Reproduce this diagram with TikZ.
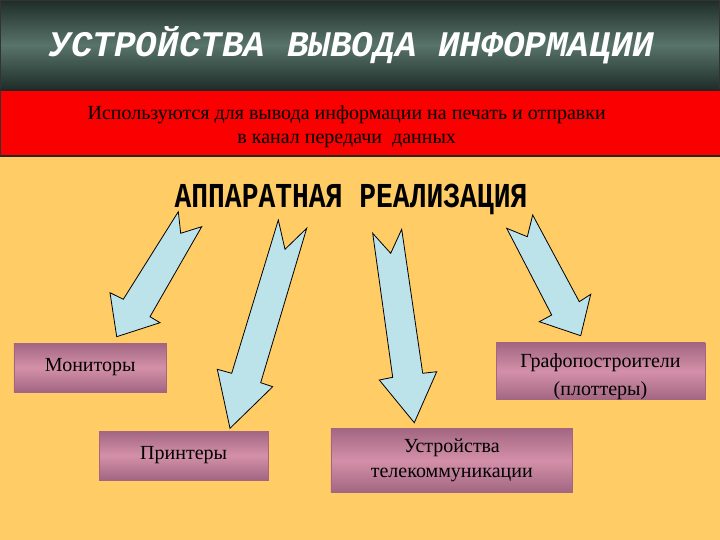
\documentclass[tikz,border=0pt]{standalone}
\usepackage{fontspec}
\setmainfont{Liberation Serif}
\newfontfamily\courfont{Liberation Mono}
\usetikzlibrary{positioning}
\definecolor{headdark}{RGB}{30,44,40}
\definecolor{headmid}{RGB}{88,116,106}
\definecolor{bandred}{RGB}{250,0,0}
\definecolor{paper}{RGB}{255,204,102}
\definecolor{boxedge}{RGB}{162,102,130}
\definecolor{boxmid}{RGB}{212,144,168}
\definecolor{arrblue}{RGB}{188,226,234}
\tikzset{
  dbox/.style={top color=boxedge,bottom color=boxedge,middle color=boxmid,draw=boxedge,
    inner sep=0pt,align=center,font=\fontsize{20}{25}\selectfont},
  barrow/.style={draw=black,fill=arrblue,line width=0.8pt,line join=miter},
  bandline/.style={draw=black!85,line width=1.2pt}
}

\begin{document}
\begin{tikzpicture}[x=1pt,y=-1pt]
  \useasboundingbox (0,0) rectangle (720,540);
  \fill[paper] (0,0) rectangle (720,540);
  % header bands
  \shade[top color=headdark,bottom color=headdark,middle color=headmid] (0,0) rectangle (720,90);
  \draw[draw=black!80,line width=1pt] (0.5,0.5) rectangle (719.5,90);
  \fill[bandred] (0,90) rectangle (720,156);
  \draw[bandline] (0,90) -- (720,90);
  \draw[bandline] (0,156) -- (720,156);
  \draw[draw=black!80,line width=1pt] (0.5,90) -- (0.5,156);
  \node[text=white,font=\courfont\bfseries\itshape\fontsize{36}{40}\selectfont] (title) at (352,45) {УСТРОЙСТВА ВЫВОДА ИНФОРМАЦИИ};
  \node[align=center,font=\fontsize{20}{24}\selectfont] (sub) at (346.7,127) {Используются для вывода информации на печать и отправки\\в канал передачи\ \ данных};
  \node[font=\courfont\bfseries\fontsize{28}{30}\selectfont] (hw) at (351,199) {\scalebox{1}[1.25]{АППАРАТНАЯ РЕАЛИЗАЦИЯ}};
  % block arrows
  \draw[barrow] (178.3,211.7) -- (180.7,233.3) -- (201.7,226.7) -- (150,316.7) -- (160,322.7)
    -- (116.7,336.7) -- (110,292.7) -- (123.3,299.3) -- cycle;
  \draw[barrow] (278.3,220) -- (285,249.3) -- (306.7,228.3) -- (260.7,382.7) -- (272.7,386.7)
    -- (230,428.3) -- (217.3,369.3) -- (231.7,373.3) -- cycle;
  \draw[barrow] (372.7,233.3) -- (390.7,253.3) -- (401.7,229.3) -- (422.7,373.3) -- (436.7,371.7)
    -- (414.3,422.7) -- (379.3,380) -- (392.7,377.3) -- cycle;
  \draw[barrow] (506.7,228.3) -- (527.3,236.7) -- (532.7,215) -- (579.3,301.7) -- (590.7,294.3)
    -- (580.7,335.7) -- (539.3,321.7) -- (551.7,315) -- cycle;
  % devices
  \node[dbox,minimum width=152.7pt,minimum height=48.4pt] (mon) at (90.3,367.5) {Мониторы};
  \node[dbox,minimum width=169.3pt,minimum height=49pt] (prn) at (183.7,455.5) {Принтеры};
  \node[dbox,minimum width=241.7pt,minimum height=64pt] (tel) at (451.8,460.3) {Устройства\\телекоммуникации};
  \node[dbox,minimum width=209pt,minimum height=55.7pt,font=\fontsize{20}{27.6}\selectfont] (plt) at (600.5,371.2) {\rule{0pt}{25pt}Графопостроители\\(плоттеры)};
\end{tikzpicture}
\end{document}
